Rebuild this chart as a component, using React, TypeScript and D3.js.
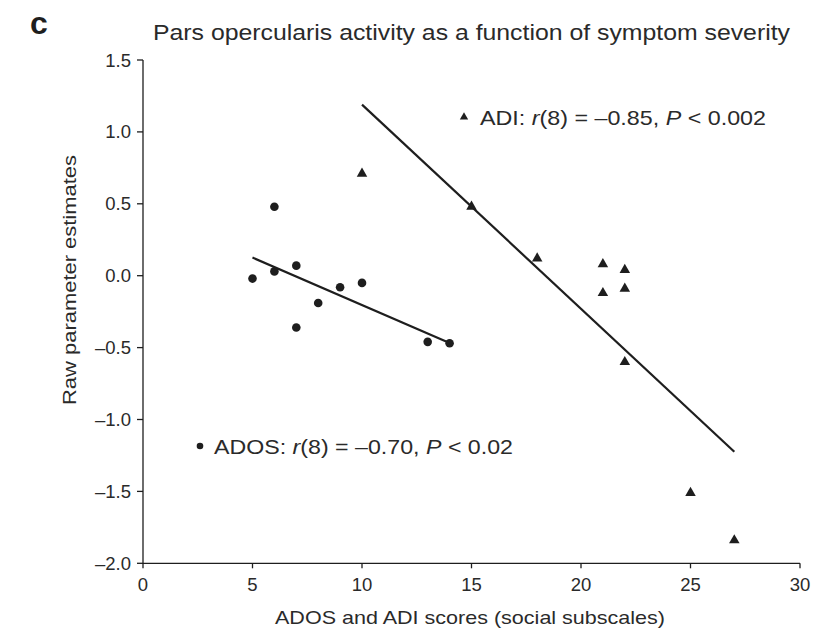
import React from "react";
import * as d3 from "d3";

const adosX = [5, 6, 6, 7, 7, 8, 9, 10, 13, 14];
const adosY = [-0.02, 0.48, 0.03, 0.07, -0.36, -0.19, -0.08, -0.05, -0.46, -0.47];
const adiX = [10, 15, 18, 21, 21, 22, 22, 22, 25, 27];
const adiY = [0.71, 0.48, 0.12, 0.08, -0.12, 0.04, -0.09, -0.6, -1.51, -1.84];
const xTicks = [0, 5, 10, 15, 20, 25, 30];
const yTicks = [1.5, 1.0, 0.5, 0.0, -0.5, -1.0, -1.5, -2.0];
const yTickLabels = ["1.5", "1.0", "0.5", "0.0", "–0.5", "–1.0", "–1.5", "–2.0"];

const W = 833;
const H = 632;
const ink = "#1e1e1e";
const txt = "#2a2a2a";
const font = "'Liberation Sans', Arial, sans-serif";

function fit(xs: number[], ys: number[]) {
  const mx = d3.mean(xs)!;
  const my = d3.mean(ys)!;
  let sxy = 0, sxx = 0;
  xs.forEach((x, i) => {
    sxy += (x - mx) * (ys[i] - my);
    sxx += (x - mx) * (x - mx);
  });
  const b = sxy / sxx;
  return (x: number) => my + b * (x - mx);
}

export default function App() {
  const x = d3.scaleLinear().domain([0, 30]).range([143, 800]);
  const y = d3.scaleLinear().domain([-2, 1.5]).range([563.3, 60]);
  const fAdos = fit(adosX, adosY);
  const fAdi = fit(adiX, adiY);
  const adosExt = d3.extent(adosX) as [number, number];
  const adiExt = d3.extent(adiX) as [number, number];
  const line = d3.line<[number, number]>().x((d) => x(d[0])).y((d) => y(d[1]));
  const tri = d3.symbol().type(d3.symbolTriangle).size(48)()!;
  const triSmall = d3.symbol().type(d3.symbolTriangle).size(30)()!;

  return (
    <svg width={W} height={H} style={{ position: "absolute", left: 0, top: 0, background: "#fff" }} fontFamily={font}>
      <rect x={0} y={0} width={W} height={H} fill="#fff" />
      <text x={30} y={34} fontSize={32} fontWeight="bold" fill={ink}>c</text>
      <text x={153} y={40} fontSize={22} textLength={637} lengthAdjust="spacingAndGlyphs" fill={txt}>
        Pars opercularis activity as a function of symptom severity
      </text>

      {/* axes */}
      <line x1={x(0)} x2={x(0)} y1={y(1.5)} y2={y(-2)} stroke={ink} strokeWidth={1.3} />
      <line x1={x(0)} x2={x(30)} y1={y(-2)} y2={y(-2)} stroke={ink} strokeWidth={1.3} />
      {yTicks.map((t, i) => (
        <g key={"y" + i}>
          <line x1={x(0) - 6} x2={x(0)} y1={y(t)} y2={y(t)} stroke={ink} strokeWidth={1.3} />
          <text x={131} y={y(t) + 6.5} fontSize={18.5} textAnchor="end" fill={txt}>{yTickLabels[i]}</text>
        </g>
      ))}
      {xTicks.map((t) => (
        <g key={"x" + t}>
          <line x1={x(t)} x2={x(t)} y1={y(-2)} y2={y(-2) + 5} stroke={ink} strokeWidth={1.3} />
          <text x={x(t)} y={591} fontSize={18.5} textAnchor="middle" fill={txt}>{t}</text>
        </g>
      ))}
      <text x={275} y={624} fontSize={18.5} textLength={390} lengthAdjust="spacingAndGlyphs" fill={txt}>
        ADOS and ADI scores (social subscales)
      </text>
      <text transform={`translate(76,405) rotate(-90)`} fontSize={18} textLength={250} lengthAdjust="spacingAndGlyphs" fill={txt}>
        Raw parameter estimates
      </text>

      {/* regression lines */}
      <path d={line([[adosExt[0], fAdos(adosExt[0])], [adosExt[1], fAdos(adosExt[1])]])!} stroke={ink} strokeWidth={2.2} fill="none" />
      <path d={line([[adiExt[0], fAdi(adiExt[0])], [adiExt[1], fAdi(adiExt[1])]])!} stroke={ink} strokeWidth={2.2} fill="none" />

      {/* points */}
      {adosX.map((v, i) => (
        <circle key={"c" + i} cx={x(v)} cy={y(adosY[i])} r={4.3} fill={ink} />
      ))}
      {adiX.map((v, i) => (
        <path key={"t" + i} d={tri} transform={`translate(${x(v)},${y(adiY[i])})`} fill={ink} />
      ))}

      {/* legends */}
      <path d={triSmall} transform="translate(464,117)" fill={ink} />
      <text x={480} y={125} fontSize={21} textLength={286} lengthAdjust="spacingAndGlyphs" fill={txt}>
        ADI: <tspan fontStyle="italic">r</tspan>(8) = –0.85, <tspan fontStyle="italic">P</tspan> &lt; 0.002
      </text>
      <circle cx={200} cy={446} r={3.3} fill={ink} />
      <text x={214} y={454} fontSize={21} textLength={299} lengthAdjust="spacingAndGlyphs" fill={txt}>
        ADOS: <tspan fontStyle="italic">r</tspan>(8) = –0.70, <tspan fontStyle="italic">P</tspan> &lt; 0.02
      </text>
    </svg>
  );
}
